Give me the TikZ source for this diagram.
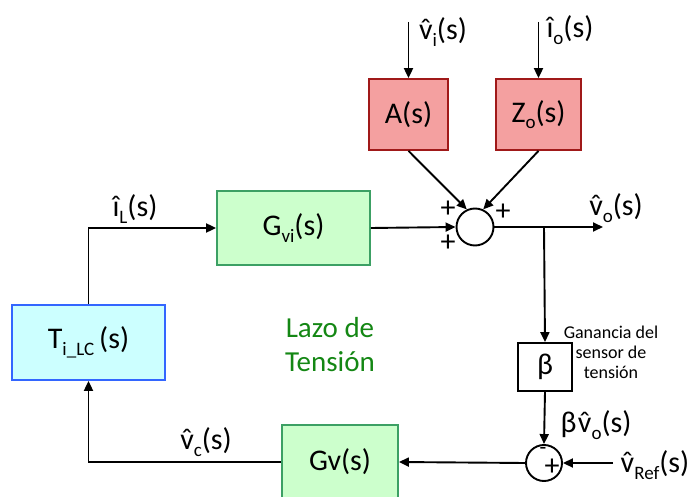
\documentclass[tikz,border=0pt]{standalone}
\usepackage{fontspec}
\setmainfont{Carlito}
\usetikzlibrary{arrows.meta,shapes.geometric}
\definecolor{redfill}{RGB}{244,160,160}
\definecolor{redline}{RGB}{160,25,25}
\definecolor{greenfill}{RGB}{204,255,204}
\definecolor{greenline}{RGB}{60,160,100}
\definecolor{cyanfill}{RGB}{204,255,255}
\definecolor{blueline}{RGB}{51,102,255}
\definecolor{lazogreen}{RGB}{20,135,20}
\newcommand{\lsub}[1]{\raisebox{-0.22em}{\fontsize{19}{19}\selectfont #1}}
\newcommand{\hv}{\accent"02C6 v}
\begin{document}
\begin{tikzpicture}[x=1pt,y=-1pt,
  big/.style={font=\fontsize{30}{34}\selectfont},
  blk/.style={draw,line width=1.8pt,inner sep=0pt,big},
  redblk/.style={blk,fill=redfill,draw=redline},
  greenblk/.style={blk,fill=greenfill,draw=greenline},
  cyanblk/.style={blk,fill=cyanfill,draw=blueline},
  plainblk/.style={blk,fill=white,draw=black},
  sumnode/.style={circle,draw,line width=1.9pt,minimum size=37pt,inner sep=0pt},
  lbl/.style={big,inner sep=0pt},
  sign/.style={font=\fontsize{30}{30}\selectfont,inner sep=0pt},
  arr/.style={line width=1.9pt,-{Triangle[length=10pt,width=9pt]}},
  ln/.style={line width=1.9pt}]
\useasboundingbox (0,0) rectangle (694,497);

% blocks
\node[redblk,minimum width=79pt,minimum height=71pt] (A) at (408.5,114.5) {A(s)};
\node[redblk,minimum width=85pt,minimum height=71pt] (Zo) at (538.5,114.5) {Z\lsub{o}(s)};
\node[greenblk,minimum width=153pt,minimum height=74pt] (Gvi) at (293.5,228) {G\lsub{vi}(s)};
\node[cyanblk,minimum width=153pt,minimum height=75pt] (T) at (88.5,342.5) {T\lsub{i\_LC}\,(s)};
\node[plainblk,minimum width=54pt,minimum height=48pt] (beta) at (545,367) {β};
\node[greenblk,minimum width=116pt,minimum height=74pt] (Gv) at (340,462) {Gv(s)};
\node[sumnode] (sum1) at (475,227) {};
\node[sumnode,minimum size=36pt] (sum2) at (544,463) {};

% free ends
\coordinate (vin) at (408.5,22);
\coordinate (ion) at (538.5,22);
\coordinate (vout) at (603,227);
\coordinate (br) at (544,227);
\coordinate (vref) at (613,463);

% connectors
\draw[arr] (vin) -- (A.north);
\draw[arr] (ion) -- (Zo.north);
\draw[arr] (A.south) -- (sum1.115);
\draw[arr] (Zo.south) -- (sum1.65);
\draw[arr] (Gvi.east) -- (sum1.west);
\draw[arr] (sum1.east) -- (vout);
\draw[arr] (br) -- (beta.north);
\draw[arr] (beta.south) -- (sum2.north);
\draw[arr] (vref) -- (sum2.east);
\draw[arr] (sum2.west) -- (Gv.east);
\draw[arr] (Gv.west) -| (T.south);
\draw[arr] (T.north) |- (Gvi.west);

% signs
\node[sign] (p1) at (448,209) {+};
\node[sign] (p2) at (503,212) {+};
\node[sign] (p3) at (448,243) {+};
\node[sign,font=\fontsize{22}{22}\selectfont] (m1) at (543,451) {-};
\node[sign] (p4) at (552,467) {+};

% labels
\node[lbl] (lvi) at (443,32) {\hv\lsub{i}(s)};
\node[lbl] (lio) at (570,30) {î\lsub{o}(s)};
\node[lbl] (lvo) at (616,208) {\hv\lsub{o}(s)};
\node[lbl] (liL) at (135,209) {î\lsub{L}(s)};
\node[lbl] (lvc) at (206,442) {\hv\lsub{c}(s)};
\node[lbl] (lbv) at (596,425) {β\kern1.5pt\hv\lsub{o}(s)};
\node[lbl] (lref) at (655,465) {\hv\lsub{Ref}(s)};

\node[align=center,text=lazogreen,font=\fontsize{29}{34}\selectfont,inner sep=0pt] (lazo) at (330,345) {Lazo de\\Tensión};
\node[align=center,font=\fontsize{18}{20}\selectfont,inner sep=0pt] (gan) at (611,352) {Ganancia del\\sensor de\\tensión};
\end{tikzpicture}
\end{document}
